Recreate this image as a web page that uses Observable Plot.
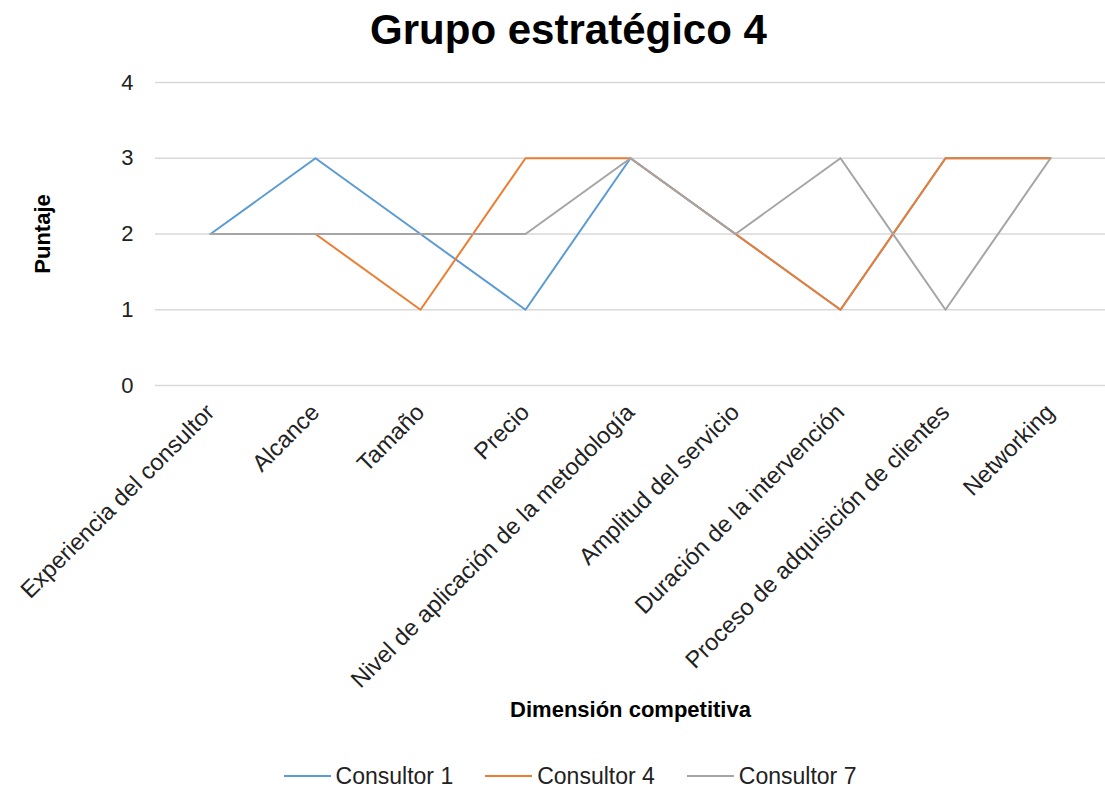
<!DOCTYPE html>
<html>
<head>
<meta charset="utf-8">
<script src="https://cdn.jsdelivr.net/npm/d3@7"></script>
<script src="https://cdn.jsdelivr.net/npm/@observablehq/plot@0.6"></script>
<style>
  body { margin: 0; background: #fff; font-family: "Liberation Sans", Arial, sans-serif; }
  #wrap { position: relative; width: 1105px; height: 787px; }
  #title { position: absolute; left: 0; top: 0; width: 1105px; height: 60px; line-height: 60px; text-align: center; font-size: 42px; font-weight: bold; color: #000; padding-left: 32px; box-sizing: border-box; }
  #chart { position: absolute; left: 0; top: 60px; }
  #legend { position: absolute; left: 0; top: 762px; width: 1105px; height: 28px; display: flex; justify-content: center; align-items: center; gap: 32px; font-size: 23px; color: #222; padding-left: 35px; box-sizing: border-box; }
  #legend .item { display: flex; align-items: center; }
  #legend .swatch { width: 47px; height: 2px; margin-right: 5px; }
</style>
</head>
<body>
<div id="wrap">
  <div id="title">Grupo estratégico 4</div>
  <div id="chart"></div>
  <div id="legend"></div>
</div>
<script>
// Competitive dimensions (x axis)
const dimensions = [
  "Experiencia del consultor",
  "Alcance",
  "Tamaño",
  "Precio",
  "Nivel de aplicación de la metodología",
  "Amplitud del servicio",
  "Duración de la intervención",
  "Proceso de adquisición de clientes",
  "Networking"
];

// Scores per consultant
const consultor1 = [2, 3, 2, 1, 3, 2, 1, 3, 3];
const consultor4 = [2, 2, 1, 3, 3, 2, 1, 3, 3];
const consultor7 = [2, 2, 2, 2, 3, 2, 3, 1, 3];

const seriesNames = ["Consultor 1", "Consultor 4", "Consultor 7"];
const seriesColors = ["#5B9BD5", "#ED7D31", "#A5A5A5"];
const yTicks = [0, 1, 2, 3, 4];

const seriesValues = [consultor1, consultor4, consultor7];
const rows = seriesNames.flatMap((name, s) =>
  dimensions.map((d, i) => ({serie: name, dimension: d, puntaje: seriesValues[s][i]}))
);

const chart = Plot.plot({
  width: 1105,
  height: 690,
  marginTop: 22,
  marginBottom: 365,
  marginLeft: 155,
  marginRight: 0,
  style: {fontFamily: "Liberation Sans, Arial, sans-serif", fontSize: "22px", color: "#222", background: "#fff", overflow: "visible"},
  x: {type: "point", domain: dimensions, padding: 0.5, label: null},
  y: {domain: [0, 4], label: null},
  color: {domain: seriesNames, range: seriesColors},
  marks: [
    Plot.gridY(yTicks, {stroke: "#D9D9D9", strokeOpacity: 1, strokeWidth: 1.5}),
    Plot.axisY(yTicks, {tickSize: 0, tickPadding: 22, fontSize: 22, tickFormat: d3.format("d"), label: null}),
    Plot.axisX({tickSize: 0, tickPadding: 23, tickRotate: -45, fontSize: 23.5, label: null}),
    Plot.line(rows, {x: "dimension", y: "puntaje", z: "serie", stroke: "serie", strokeWidth: 2}),
    Plot.text(["Dimensión competitiva"], {frameAnchor: "bottom", dy: 331, fontWeight: "bold", fontSize: 22, fill: "#000"}),
    Plot.text(["Puntaje"], {frameAnchor: "left", textAnchor: "middle", dx: -113, rotate: -90, fontWeight: "bold", fontSize: 22, fill: "#000"})
  ]
});
document.getElementById("chart").appendChild(chart);

const legend = document.getElementById("legend");
seriesNames.forEach((name, i) => {
  const item = document.createElement("div");
  item.className = "item";
  const sw = document.createElement("span");
  sw.className = "swatch";
  sw.style.background = seriesColors[i];
  const label = document.createElement("span");
  label.textContent = name;
  item.appendChild(sw);
  item.appendChild(label);
  legend.appendChild(item);
});
</script>
</body>
</html>
